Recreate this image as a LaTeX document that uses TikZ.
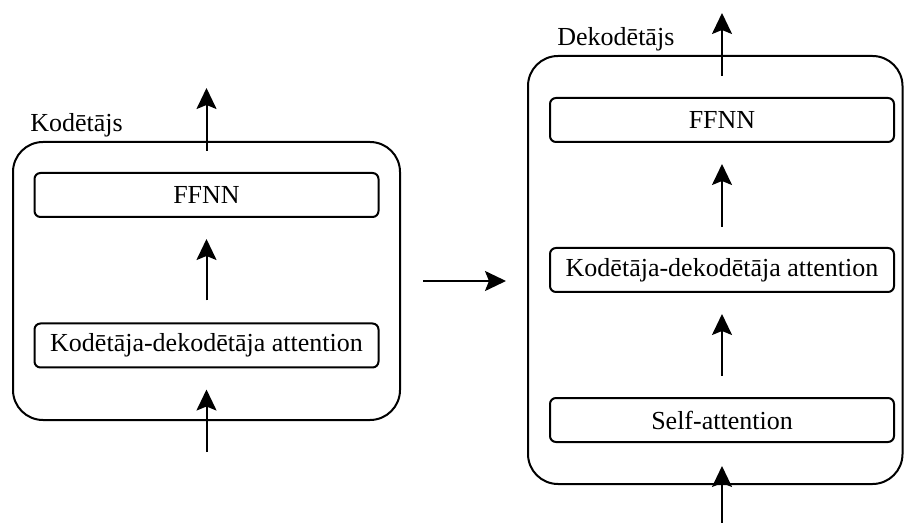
\documentclass[tikz,border=0pt]{standalone}
\usepackage{fontspec}
\setmainfont{Liberation Serif}
\usetikzlibrary{arrows.meta,positioning,calc}
\tikzset{
  stack/.style={draw,rounded corners=15pt,line width=1pt,inner sep=0pt},
  layer/.style={draw,rounded corners=3pt,line width=1pt,minimum width=172pt,minimum height=22pt,inner sep=0pt,font=\fontsize{13}{15}\selectfont},
  flow/.style={-{Stealth[length=10.5pt,width=10pt,inset=2pt]},line width=1pt},
  lab/.style={anchor=base west,inner sep=0pt,font=\fontsize{13}{15}\selectfont}
}

\begin{document}
\begin{tikzpicture}[x=0.5pt,y=-0.5pt]
  \useasboundingbox (0,0) rectangle (904,523);

  % encoder
  \node[stack,minimum width=193.5pt,minimum height=139pt] (enc) at (206.5,281) {};
  \node[lab] (enclab) at (30,132) {Kodētājs};
  \node[layer] (effnn) at (206.5,195) {FFNN};
  \node[layer] (ekd) at (206.5,345.5) {Kodētāja-dekodētāja attention};
  \coordinate (ein) at (206.5,452);
  \coordinate (eout) at (206.5,88);
  \draw[flow,shorten >=10.5pt] (ein)--(ekd);
  \draw[flow,shorten <=11pt,shorten >=10.5pt] (ekd)--(effnn);
  \draw[flow,shorten <=10.5pt] (effnn)--(eout);

  % decoder
  \node[stack,minimum width=187.25pt,minimum height=214pt] (dec) at (715.25,270) {};
  \node[lab] (declab) at (557,46) {Dekodētājs};
  \node[layer] (dffnn) at (722,120) {FFNN};
  \node[layer] (dkd) at (722,270) {Kodētāja-dekodētāja attention};
  \node[layer] (dself) at (722,420) {Self-attention};
  \coordinate (din) at (722,523);
  \coordinate (dout) at (722,13);
  \draw[flow,shorten >=11.5pt] (din)--(dself);
  \draw[flow,shorten <=10.5pt,shorten >=10.5pt] (dself)--(dkd);
  \draw[flow,shorten <=10pt,shorten >=10.5pt] (dkd)--(dffnn);
  \draw[flow,shorten <=10.5pt] (dffnn)--(dout);

  % encoder output into decoder
  \draw[flow,shorten <=11pt,shorten >=10.5pt] (enc.east)--(enc.east -| dec.west);
\end{tikzpicture}
\end{document}
